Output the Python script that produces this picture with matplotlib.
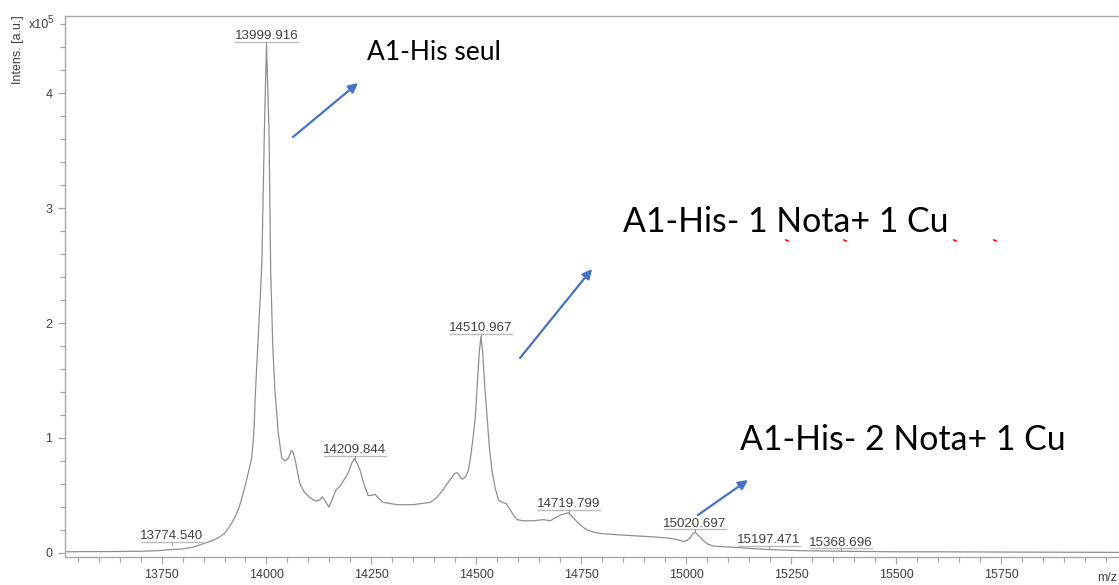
import matplotlib
matplotlib.use("Agg")
import matplotlib.pyplot as plt
import matplotlib.transforms as mtransforms
from matplotlib.ticker import MultipleLocator
from matplotlib.patches import FancyArrowPatch
from matplotlib.lines import Line2D

# ---------------- data ----------------
mz = [13520, 13560, 13600, 13650, 13700, 13740, 13774, 13800, 13825, 13849,
      13873, 13889, 13900, 13910, 13917, 13926, 13935, 13943, 13951, 13958,
      13965, 13970, 13974, 13980, 13986, 13989, 13995, 14000, 14006, 14010,
      14015, 14020, 14028, 14036, 14044, 14051, 14060, 14064, 14070, 14075,
      14080, 14090, 14104, 14118, 14126, 14133, 14140, 14149, 14157, 14166,
      14175, 14187, 14195, 14203, 14209, 14216, 14223, 14229, 14235, 14242,
      14250, 14259, 14266, 14278, 14295, 14311, 14330, 14349, 14370, 14390,
      14405, 14421, 14432, 14442, 14448, 14454, 14460, 14466, 14474, 14481,
      14487, 14492, 14497, 14502, 14507, 14511, 14515, 14520, 14526, 14531,
      14537, 14545, 14553, 14562, 14571, 14580, 14590, 14597, 14611, 14635,
      14660, 14676, 14690, 14700, 14710, 14719, 14730, 14740, 14752, 14764,
      14780, 14795, 14830, 14874, 14920, 14955, 14975, 14993, 15002, 15009,
      15016, 15021, 15030, 15040, 15050, 15064, 15085, 15112, 15150, 15193,
      15230, 15272, 15320, 15367, 15440, 15510, 15600, 15748, 15900, 16031]
intens = [0.010, 0.012, 0.012, 0.013, 0.015, 0.020, 0.030, 0.035, 0.050, 0.080,
          0.110, 0.140, 0.170, 0.220, 0.260, 0.320, 0.400, 0.500, 0.610, 0.720,
          0.830, 1.050, 1.420, 1.850, 2.290, 2.520, 3.680, 4.420, 3.680, 2.450,
          1.800, 1.420, 1.050, 0.830, 0.800, 0.820, 0.890, 0.870, 0.780, 0.680,
          0.600, 0.530, 0.480, 0.450, 0.460, 0.490, 0.450, 0.400, 0.470, 0.550,
          0.580, 0.650, 0.700, 0.780, 0.820, 0.780, 0.720, 0.640, 0.570, 0.500,
          0.500, 0.510, 0.480, 0.440, 0.430, 0.420, 0.420, 0.420, 0.430, 0.440,
          0.480, 0.550, 0.610, 0.660, 0.690, 0.700, 0.670, 0.640, 0.660, 0.720,
          0.850, 1.000, 1.160, 1.450, 1.750, 1.880, 1.750, 1.450, 1.160, 0.920,
          0.720, 0.560, 0.460, 0.440, 0.430, 0.380, 0.320, 0.290, 0.280, 0.280,
          0.290, 0.280, 0.310, 0.330, 0.340, 0.350, 0.310, 0.270, 0.230, 0.200,
          0.180, 0.170, 0.160, 0.150, 0.140, 0.130, 0.120, 0.100, 0.110, 0.130,
          0.170, 0.180, 0.150, 0.110, 0.080, 0.060, 0.055, 0.050, 0.040, 0.030,
          0.025, 0.020, 0.017, 0.015, 0.012, 0.010, 0.010, 0.008, 0.006, 0.005]

peak_mz = [13774.540, 13999.916, 14209.844, 14510.967, 14719.799,
           15020.697, 15197.471, 15368.696]
peak_h = [0.07, 4.42, 0.82, 1.88, 0.35, 0.18, 0.035, 0.017]
peak_labels = ["13774.540", "13999.916", "14209.844", "14510.967",
               "14719.799", "15020.697", "15197.471", "15368.696"]

x_ticks = [13750, 14000, 14250, 14500, 14750, 15000, 15250, 15500, 15750]
y_ticks = [0, 1, 2, 3, 4]

notes = ["A1-His seul", "A1-His- 1 Nota+ 1 Cu", "A1-His- 2 Nota+ 1 Cu"]

# ---------------- figure ----------------
W, H = 1119, 585
fig = plt.figure(figsize=(W / 100, H / 100), dpi=100)
ax = fig.add_axes([65 / W, 28 / H, (W - 65) / W, (557 - 16) / H])

ax.plot(mz, intens, color="#8f8f8f", lw=0.9)
ax.set_xlim(13520, 16031)
ax.set_ylim(-0.035, 4.67)

ax.set_xticks(x_ticks)
ax.set_yticks(y_ticks)
ax.xaxis.set_minor_locator(MultipleLocator(50))
ax.yaxis.set_minor_locator(MultipleLocator(0.2))

spine_col = "#a8a8a8"
for s in ["left", "bottom", "top"]:
    ax.spines[s].set_color(spine_col)
    ax.spines[s].set_linewidth(1.0)
ax.spines["right"].set_visible(False)

ax.tick_params(axis="both", which="major", direction="out", length=5,
               width=0.9, color=spine_col, labelcolor="#404040",
               labelsize=9)
ax.tick_params(axis="both", which="minor", direction="out", length=3.5,
               width=0.9, color=spine_col)
ax.tick_params(axis="x", pad=4)
ax.tick_params(axis="y", pad=4)
for lab in ax.get_xticklabels() + ax.get_yticklabels():
    lab.set_family("Liberation Sans")

# peak labels with underline
under_half = 74  # half width of the underline in m/z units
for x, y, t in zip(peak_mz, peak_h, peak_labels):
    tr_u = mtransforms.offset_copy(ax.transData, fig=fig, x=0, y=3, units="dots")
    tr_t = mtransforms.offset_copy(ax.transData, fig=fig, x=0, y=5.5, units="dots")
    ax.plot([x - under_half, x + under_half], [y, y], color="#bdbdbd",
            lw=1.0, transform=tr_u)
    ax.plot([x, x], [y, y + 0.026], color="#9a9a9a", lw=0.8)
    ax.text(x, y, t, transform=tr_t, ha="center", va="baseline",
            fontsize=9.6, color="#404040", family="Liberation Sans")

# axis labels
fig.text(18 / W, 1 - 15 / H, "Intens. [a.u.]", rotation=90, ha="center",
         va="top", fontsize=9, color="#404040", family="Liberation Sans")
fig.text(29 / W, 1 - 25 / H, "x10", ha="left", va="center", fontsize=9,
         color="#404040", family="Liberation Sans")
fig.text(48 / W, 1 - 20 / H, "5", ha="left", va="center", fontsize=7,
         color="#404040", family="Liberation Sans")
fig.text(1117 / W, 1 - 578 / H, "m/z", ha="right", va="center", fontsize=9,
         color="#404040", family="Liberation Sans")

# overlay annotations
fig.text(367 / W, 1 - 60 / H, notes[0], ha="left", va="baseline",
         fontsize=19, color="black", family="Lato")
fig.text(623 / W, 1 - 232 / H, notes[1], ha="left", va="baseline",
         fontsize=24.4, color="black", family="Lato")
fig.text(740 / W, 1 - 450 / H, notes[2], ha="left", va="baseline",
         fontsize=24.4, color="black", family="Lato")

arrow_col = "#4472C4"
for (x0, y0), (x1, y1) in [((293, 137), (358, 83)),
                           ((520, 358), (592, 269)),
                           ((698, 515), (748, 480))]:
    arr = FancyArrowPatch((x0 / W, 1 - y0 / H), (x1 / W, 1 - y1 / H),
                          transform=fig.transFigure, arrowstyle="-|>",
                          mutation_scale=14, color=arrow_col, lw=1.6,
                          shrinkA=0, shrinkB=0)
    fig.add_artist(arr)

# small red spell-check marks
for xr in [787, 845, 955, 995]:
    fig.add_artist(Line2D([(xr - 1) / W, (xr + 1) / W],
                          [1 - 240 / H, 1 - 241 / H],
                          transform=fig.transFigure, color="red", lw=1.2))

fig.savefig("out.png", dpi=100)
